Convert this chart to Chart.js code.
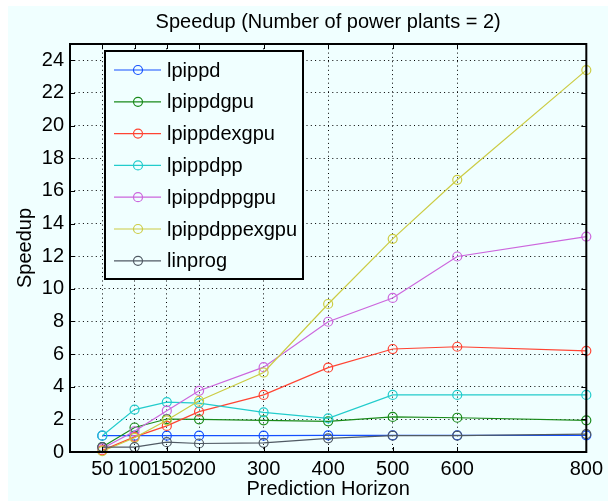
<!DOCTYPE html>
<html>
  <head>
    <title>Speedup</title>
    <script src="https://cdn.jsdelivr.net/npm/chart.js"></script>
    <style>
      body { margin: 0; background: #fff; }
      #wrap { width: 608px; height: 501px; }
    </style>
  </head>
  <body>
    <div id="wrap"><canvas id="speedupChart" width="608" height="501"></canvas></div>

    <script>
      // x axis: prediction horizon
      const horizon = [50, 100, 150, 200, 300, 400, 500, 600, 800];
      const xTickValues = [50, 100, 150, 200, 300, 400, 500, 600, 800];
      const yTickValues = [0, 2, 4, 6, 8, 10, 12, 14, 16, 18, 20, 22, 24];

      const seriesNames = ["lpippd", "lpippdgpu", "lpippdexgpu", "lpippdpp", "lpippdppgpu", "lpippdppexgpu", "linprog"];

      // speedup values
      const lpippd = [1.0, 1.0, 1.0, 1.0, 1.0, 1.02, 1.02, 1.02, 1.02];
      const lpippdgpu = [0.3, 1.5, 2.02, 2.0, 1.94, 1.88, 2.15, 2.1, 1.94];
      const lpippdexgpu = [0.1, 0.93, 1.6, 2.47, 3.5, 5.17, 6.31, 6.45, 6.2];
      const lpippdpp = [1.0, 2.6, 3.06, 3.0, 2.43, 2.06, 3.5, 3.5, 3.5];
      const lpippdppgpu = [0.22, 1.27, 2.53, 3.75, 5.2, 7.98, 9.44, 11.98, 13.2];
      const lpippdppexgpu = [0.05, 0.87, 1.94, 3.14, 4.87, 9.07, 13.06, 16.68, 23.4];
      const linprog = [0.3, 0.3, 0.6, 0.52, 0.56, 0.84, 1.0, 1.0, 1.1];

      const seriesValues = [lpippd, lpippdgpu, lpippdexgpu, lpippdpp, lpippdppgpu, lpippdppexgpu, linprog];
      const colors = ["#1450ff", "#1a8a1a", "#ff4433", "#22cccc", "#cc66dd", "#cccc44", "#505a64"];

      const FONT = "'Liberation Sans', Arial, Helvetica, sans-serif";
      const FS = 20;
      const BG = "#f0ffff";

      const datasets = seriesNames.map((name, i) => ({
        label: name,
        data: horizon.map((h, j) => ({ x: h, y: seriesValues[i][j] })),
        borderColor: colors[i],
        backgroundColor: "rgba(0,0,0,0)",
        pointBorderColor: colors[i],
        pointBackgroundColor: "rgba(0,0,0,0)",
        borderWidth: 1.2,
        pointRadius: 4.5,
        pointBorderWidth: 1.2,
        tension: 0,
        clip: false,
        order: seriesNames.length - i, // later series drawn on top, like matlab
      }));

      // figure background (azure with thin white margin top/left)
      const backgroundPlugin = {
        id: "bg",
        beforeDraw(chart) {
          const ctx = chart.ctx;
          ctx.save();
          ctx.fillStyle = "#ffffff";
          ctx.fillRect(0, 0, chart.width, chart.height);
          ctx.fillStyle = BG;
          ctx.fillRect(8, 6, chart.width - 8, chart.height - 6);
          ctx.restore();
        },
      };

      // box around the axes + inward ticks + title
      const boxPlugin = {
        id: "box",
        afterDatasetsDraw(chart) {
          const { ctx, chartArea: a, scales } = chart;
          ctx.save();
          ctx.strokeStyle = "#000";
          ctx.lineWidth = 1;
          const tl = 5;
          ctx.beginPath();
          xTickValues.forEach((v) => {
            const px = Math.round(scales.x.getPixelForValue(v)) + 0.5;
            ctx.moveTo(px, a.bottom);
            ctx.lineTo(px, a.bottom - tl);
            ctx.moveTo(px, a.top);
            ctx.lineTo(px, a.top + tl);
          });
          yTickValues.forEach((v) => {
            const py = Math.round(scales.y.getPixelForValue(v)) + 0.5;
            ctx.moveTo(a.left, py);
            ctx.lineTo(a.left + tl, py);
            ctx.moveTo(a.right, py);
            ctx.lineTo(a.right - tl, py);
          });
          ctx.stroke();
          ctx.lineWidth = 2;
          ctx.strokeRect(a.left, a.top, a.right - a.left, a.bottom - a.top);

          // title, centred over the axes
          ctx.fillStyle = "#000";
          ctx.font = FS + "px " + FONT;
          ctx.textAlign = "center";
          ctx.textBaseline = "alphabetic";
          ctx.fillText("Speedup (Number of power plants = 2)", (a.left + a.right) / 2, 28);
          ctx.restore();
        },
      };

      // legend inside the axes, upper left
      const legendPlugin = {
        id: "insideLegend",
        afterDraw(chart) {
          const { ctx, chartArea: a } = chart;
          const x0 = a.left + 35;
          const y0 = a.top + 7;
          const w = 198;
          const h = 228;
          ctx.save();
          ctx.fillStyle = BG;
          ctx.fillRect(x0, y0, w, h);
          ctx.strokeStyle = "#000";
          ctx.lineWidth = 2;
          ctx.strokeRect(x0, y0, w, h);
          ctx.font = FS + "px " + FONT;
          ctx.textBaseline = "middle";
          ctx.textAlign = "left";
          chart.data.datasets.forEach((ds, i) => {
            const y = y0 + 19 + i * 31.8;
            ctx.strokeStyle = ds.borderColor;
            ctx.lineWidth = 1.2;
            ctx.beginPath();
            ctx.moveTo(x0 + 9, y);
            ctx.lineTo(x0 + 56, y);
            ctx.stroke();
            ctx.beginPath();
            ctx.arc(x0 + 33, y, 4.5, 0, Math.PI * 2);
            ctx.stroke();
            ctx.fillStyle = "#000";
            ctx.fillText(ds.label, x0 + 62, y + 1);
          });
          ctx.restore();
        },
      };

      const ctx = document.getElementById("speedupChart").getContext("2d");
      const speedupChart = new Chart(ctx, {
        type: "line",
        data: { datasets: datasets },
        plugins: [backgroundPlugin, boxPlugin, legendPlugin],
        options: {
          responsive: false,
          animation: false,
          layout: { padding: { left: 0, right: 19, top: 44, bottom: 0 } },
          plugins: {
            legend: { display: false },
            title: { display: false },
            tooltip: { enabled: false },
          },
          scales: {
            x: {
              type: "linear",
              min: 0,
              max: 800,
              afterBuildTicks: (axis) => {
                axis.ticks = xTickValues.map((v) => ({ value: v }));
              },
              afterFit: (axis) => {
                axis.height = 49;
              },
              grid: { color: "#000", lineWidth: 1, drawTicks: false },
              border: { display: false, dash: [1, 3.3] },
              ticks: {
                color: "#000",
                font: { family: FONT, size: FS },
                padding: 5,
                maxRotation: 0,
                autoSkip: false,
                callback: (v) => String(v),
              },
              title: {
                display: true,
                text: "Prediction Horizon",
                color: "#000",
                font: { family: FONT, size: FS },
                padding: { top: 0, bottom: 0 },
              },
            },
            y: {
              min: 0,
              max: 25,
              afterBuildTicks: (axis) => {
                axis.ticks = yTickValues.map((v) => ({ value: v }));
              },
              afterFit: (axis) => {
                axis.width = 70;
              },
              grid: { color: "#000", lineWidth: 1, drawTicks: false },
              border: { display: false, dash: [1, 3.3] },
              ticks: {
                color: "#000",
                font: { family: FONT, size: FS },
                padding: 6,
                autoSkip: false,
                callback: (v) => String(v),
              },
              title: {
                display: true,
                text: "Speedup",
                color: "#000",
                font: { family: FONT, size: FS },
                padding: { top: 13, bottom: 0 },
              },
            },
          },
        },
      });
    </script>
  </body>
</html>
